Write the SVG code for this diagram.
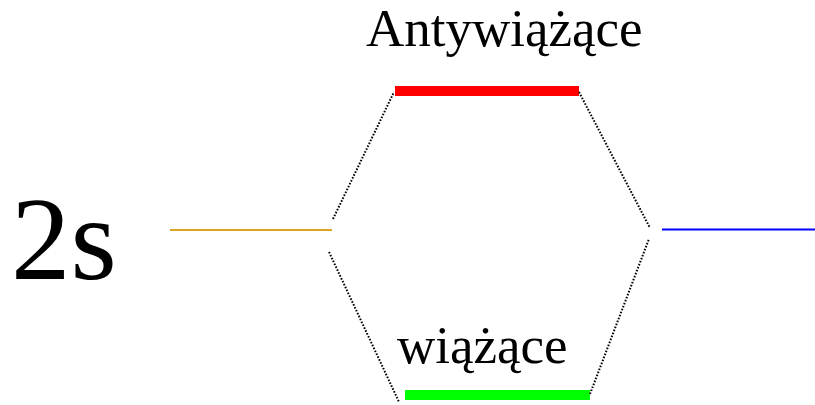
<svg xmlns="http://www.w3.org/2000/svg" width="815" height="405" viewBox="0 0 815 405">
<style>
text{font-family:"Liberation Serif","Times New Roman",serif;fill:#000}
.dot{stroke:#000;stroke-width:2;stroke-dasharray:1.6 1.6;fill:none}
</style>
<rect width="815" height="405" fill="#fff"/>
<g id="label-2s"><text x="11" y="279" font-size="119">2s</text></g>
<g id="atomic-left"><line x1="170" y1="230" x2="332" y2="230" stroke="#DAA520" stroke-width="2"/></g>
<g id="atomic-right"><line x1="662" y1="229.5" x2="815" y2="229.5" stroke="#0000FF" stroke-width="2"/></g>
<g id="antibonding">
<line x1="395" y1="91" x2="579" y2="91" stroke="#FF0000" stroke-width="10"/>
<text x="366" y="46" font-size="53">Antywiążące</text>
</g>
<g id="bonding">
<line x1="405" y1="395" x2="590" y2="395" stroke="#00FF00" stroke-width="10"/>
<text x="397" y="363" font-size="53">wiążące</text>
</g>
<g id="connectors">
<line class="dot" x1="333" y1="219" x2="394" y2="92"/>
<line class="dot" x1="579" y1="92" x2="650" y2="228"/>
<line class="dot" x1="329" y1="252" x2="399" y2="402"/>
<line class="dot" x1="590" y1="394" x2="649" y2="239"/>
</g>
</svg>
